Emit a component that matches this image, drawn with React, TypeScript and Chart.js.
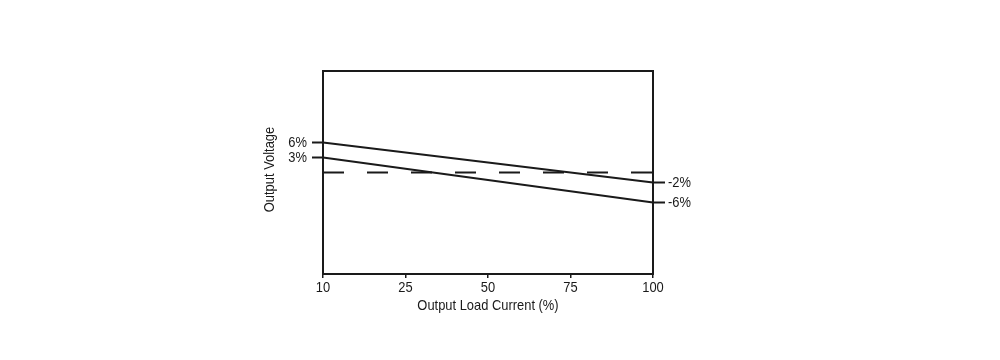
import { useEffect, useRef } from 'react';
import { Chart, registerables } from 'chart.js';

Chart.register(...registerables);

// ---- data ----
const loadCurrentLabels = ['10', '25', '50', '75', '100'];
const highLineValues = [6, null, null, null, -2];
const lowLineValues = [3, null, null, null, -6];
const nominalValues = [0, null, null, null, 0];
const highLineEndLabels = ['6%', '-2%'];
const lowLineEndLabels = ['3%', '-6%'];
const xAxisTitle = 'Output Load Current (%)';
const yAxisTitle = 'Output Voltage';
const voltageMin = -20.3;
const voltageMax = 20.3;

const FONT = '"Liberation Sans", Arial, sans-serif';
const INK = '#1a1a1a';
const SQUEEZE = 0.86; // condensed look of the reference typeface

function drawText(
  ctx: CanvasRenderingContext2D,
  text: string,
  x: number,
  y: number,
  align: CanvasTextAlign,
  rotation = 0
) {
  ctx.save();
  ctx.translate(x, y);
  ctx.rotate(rotation);
  ctx.scale(SQUEEZE, 1);
  ctx.textAlign = align;
  ctx.textBaseline = 'middle';
  ctx.fillText(text, 0, 0);
  ctx.restore();
}

const annotationPlugin = {
  id: 'annotations',
  afterDatasetsDraw(chart: any) {
    const { ctx, chartArea } = chart;
    const xScale = chart.scales.x;
    ctx.save();
    ctx.strokeStyle = INK;
    ctx.fillStyle = INK;
    ctx.lineWidth = 2;
    ctx.strokeRect(
      chartArea.left,
      chartArea.top,
      chartArea.right - chartArea.left,
      chartArea.bottom - chartArea.top
    );
    ctx.font = '15px ' + FONT;

    // x tick labels
    loadCurrentLabels.forEach((lbl, i) => {
      drawText(ctx, lbl, xScale.getPixelForValue(i), chartArea.bottom + 14, 'center');
    });
    // axis titles
    drawText(ctx, xAxisTitle, (chartArea.left + chartArea.right) / 2, chartArea.bottom + 32, 'center');
    drawText(ctx, yAxisTitle, chartArea.left - 53, (chartArea.top + chartArea.bottom) / 2 - 3, 'center', -Math.PI / 2);

    // line end stubs and labels
    chart.data.datasets.forEach((ds: any, i: number) => {
      const ends = ds.endLabels;
      if (!ends) return;
      const meta = chart.getDatasetMeta(i);
      const pts = meta.data.filter((_p: any, j: number) => ds.data[j] != null);
      const first = pts[0];
      const last = pts[pts.length - 1];
      ctx.beginPath();
      ctx.moveTo(first.x - 11, first.y);
      ctx.lineTo(first.x, first.y);
      ctx.moveTo(last.x, last.y);
      ctx.lineTo(last.x + 12, last.y);
      ctx.stroke();
      drawText(ctx, ends[0], first.x - 16, first.y, 'right');
      drawText(ctx, ends[1], last.x + 15, last.y, 'left');
    });
    ctx.restore();
  },
};

export default function App() {
  const ref = useRef<HTMLCanvasElement>(null);

  useEffect(() => {
    if (!ref.current) return;
    const chart = new Chart(ref.current, {
      type: 'line',
      data: {
        labels: loadCurrentLabels,
        datasets: [
          {
            data: highLineValues,
            borderColor: INK,
            borderWidth: 2,
            spanGaps: true,
            pointRadius: 0,
            endLabels: highLineEndLabels,
          } as any,
          {
            data: lowLineValues,
            borderColor: INK,
            borderWidth: 2,
            spanGaps: true,
            pointRadius: 0,
            endLabels: lowLineEndLabels,
          } as any,
          {
            data: nominalValues,
            borderColor: INK,
            borderWidth: 2,
            borderDash: [21, 23],
            spanGaps: true,
            pointRadius: 0,
          },
        ],
      },
      options: {
        animation: false,
        responsive: false,
        layout: { padding: { left: 250, right: 347, top: 71, bottom: 40 } },
        plugins: { legend: { display: false }, tooltip: { enabled: false } },
        elements: { line: { tension: 0 } },
        scales: {
          x: {
            type: 'category',
            offset: false,
            grid: {
              display: true,
              drawOnChartArea: false,
              drawTicks: true,
              tickLength: 4,
              color: INK,
              lineWidth: 1.5,
            },
            border: { display: false },
            ticks: { display: false, autoSkip: false, maxRotation: 0 },
            afterFit: (s: any) => {
              s.height = 46;
            },
          },
          y: {
            min: voltageMin,
            max: voltageMax,
            grid: { display: false },
            border: { display: false },
            ticks: { display: false },
            afterFit: (s: any) => {
              s.width = 73;
            },
          },
        },
      },
      plugins: [annotationPlugin],
    });
    return () => chart.destroy();
  }, []);

  return (
    <div style={{ position: 'fixed', left: 0, top: 0, width: 1000, height: 360, background: '#fff' }}>
      <canvas ref={ref} width={1000} height={360} style={{ display: 'block' }} />
    </div>
  );
}
